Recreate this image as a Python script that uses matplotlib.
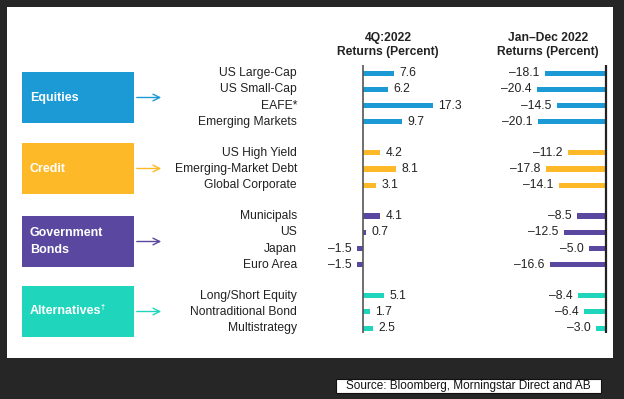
import matplotlib
matplotlib.use("Agg")
import matplotlib.pyplot as plt
from matplotlib.patches import Rectangle

plt.rcParams['font.family'] = ['Liberation Sans', 'DejaVu Sans']

# data
groups = ['Equities', 'Credit', 'Government\nBonds', 'Alternatives']
group_colors = ['#1B9AD6', '#FDB927', '#5A48A0', '#1FD6BD']
rows = [
    ['US Large-Cap', 'US Small-Cap', 'EAFE*', 'Emerging Markets'],
    ['US High Yield', 'Emerging-Market Debt', 'Global Corporate'],
    ['Municipals', 'US', 'Japan', 'Euro Area'],
    ['Long/Short Equity', 'Nontraditional Bond', 'Multistrategy'],
]
q4_returns = [
    [7.6, 6.2, 17.3, 9.7],
    [4.2, 8.1, 3.1],
    [4.1, 0.7, -1.5, -1.5],
    [5.1, 1.7, 2.5],
]
year_returns = [
    [-18.1, -20.4, -14.5, -20.1],
    [-11.2, -17.8, -14.1],
    [-8.5, -12.5, -5.0, -16.6],
    [-8.4, -6.4, -3.0],
]

W, H = 624, 399
fig = plt.figure(figsize=(W / 100, H / 100), dpi=100)
fig.patch.set_facecolor('#262626')


def px_axes(x0, y0, x1, y1):
    # pixel box (top-left origin) -> figure axes
    return fig.add_axes([x0 / W, 1 - y1 / H, (x1 - x0) / W, (y1 - y0) / H])


# white panel / canvas for boxes and text
bg = px_axes(0, 0, W, H)
bg.set_xlim(0, W)
bg.set_ylim(H, 0)
bg.axis('off')
bg.add_patch(Rectangle((7, 7), 606, 351, facecolor='white', edgecolor='none'))

# row positions with gaps between groups
ypos = []
gap = 1.9
y = 0.0
for g in rows:
    ys = []
    for _ in g:
        ys.append(y)
        y += 1
    ypos.append(ys)
    y += gap - 1

ylim = (16.0, -0.5)
ax1 = px_axes(351, 65, 443, 333)
ax2 = px_axes(532, 65, 609, 333)
ax1.set_xlim(-3, 19.8)
ax2.set_xlim(-22, 0.9)
fs = 8.7
for ax in (ax1, ax2):
    ax.set_ylim(*ylim)
    ax.axis('off')
    ax.patch.set_alpha(0)

for gi, g in enumerate(rows):
    c = group_colors[gi]
    for ri, name in enumerate(g):
        yy = ypos[gi][ri]
        v1 = q4_returns[gi][ri]
        v2 = year_returns[gi][ri]
        ax1.barh(yy, v1, height=0.32, color=c)
        ax2.barh(yy, v2, height=0.32, color=c)
        lab1 = f'{v1:.1f}'.replace('-', '\u2013')
        lab2 = f'{v2:.1f}'.replace('-', '\u2013')
        if v1 >= 0:
            ax1.annotate(lab1, (v1, yy), xytext=(4, 0), textcoords='offset points',
                         ha='left', va='center', fontsize=fs, color='#222222')
        else:
            ax1.annotate(lab1, (v1, yy), xytext=(-4, 0), textcoords='offset points',
                         ha='right', va='center', fontsize=fs, color='#222222')
        ax2.annotate(lab2, (v2, yy), xytext=(-4, 0), textcoords='offset points',
                     ha='right', va='center', fontsize=fs, color='#222222')
        ax1.annotate(name, (0, yy), xycoords=('figure pixels', 'data'),
                     xytext=(297 * 72 / 100, 0), textcoords='offset points',
                     ha='right', va='center', fontsize=fs, color='#222222')

ax1.axvline(0, color='#555555', lw=1.2)
ax2.axvline(0, color='#222222', lw=1.6)

# column headers
bg.text(388, 38, '4Q:2022', ha='center', va='center', fontsize=fs, fontweight='bold', color='#222222')
bg.text(388, 52, 'Returns (Percent)', ha='center', va='center', fontsize=fs, fontweight='bold', color='#222222')
bg.text(548, 38, 'Jan\u2013Dec 2022', ha='center', va='center', fontsize=fs, fontweight='bold', color='#222222')
bg.text(548, 52, 'Returns (Percent)', ha='center', va='center', fontsize=fs, fontweight='bold', color='#222222')

# category boxes with arrows
box_tops = [72, 143, 216, 286]
for gi, name in enumerate(groups):
    c = group_colors[gi]
    top = box_tops[gi]
    bg.add_patch(Rectangle((22, top), 112, 51, facecolor=c, edgecolor='none'))
    mid = top + 25.5
    t = bg.text(30, mid, name, ha='left', va='center', fontsize=9, fontweight='bold',
                color='white', linespacing=1.45)
    if name == 'Alternatives':
        bg.text(101, mid - 3.5, '\u2020', ha='left', va='center', fontsize=5.5,
                fontweight='bold', color='white')
    bg.annotate('', xy=(164, mid), xytext=(134, mid),
                arrowprops=dict(arrowstyle='->', color=c, lw=1.0, mutation_scale=12))

# source box
bg.add_patch(Rectangle((336, 379), 265, 14, facecolor='white', edgecolor='#111111', lw=0.8))
bg.text(468.5, 386, 'Source: Bloomberg, Morningstar Direct and AB', ha='center', va='center',
        fontsize=8.5, color='#111111')

fig.savefig('out.png', dpi=100, facecolor=fig.get_facecolor())
